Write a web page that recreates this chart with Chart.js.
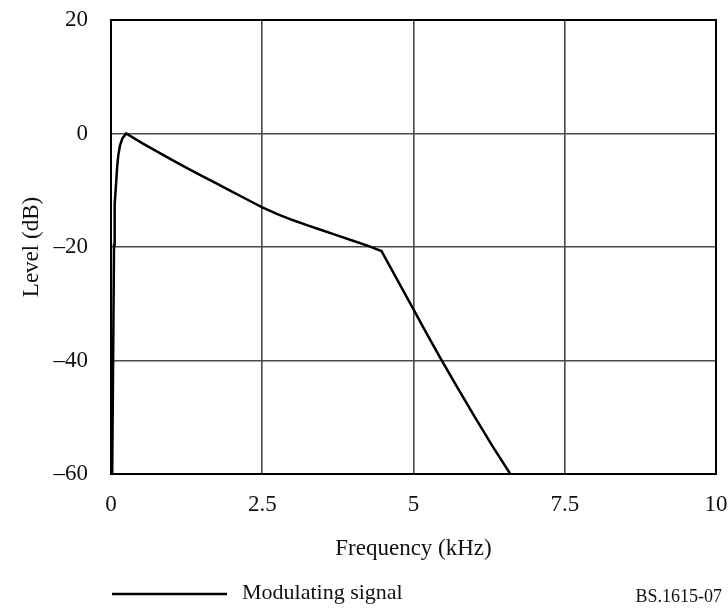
<!DOCTYPE html>
<html><head><meta charset="utf-8">
<script src="https://cdn.jsdelivr.net/npm/chart.js@4.4.1/dist/chart.umd.min.js"></script>
<style>html,body{margin:0;padding:0;background:#fff}#wrap{width:728px;height:609px}</style>
</head><body><div id="wrap"><canvas id="c" width="728" height="609"></canvas></div>
<script>
const freqKHz = [0.02, 0.035, 0.05, 0.055, 0.066, 0.082, 0.104, 0.121, 0.149, 0.187, 0.25,
  0.5, 0.75, 1.0, 1.25, 1.5, 1.75, 2.0, 2.25, 2.5, 2.75, 3.0, 3.25, 3.5, 3.75, 4.0, 4.25, 4.47,
  5.0, 5.2, 5.44, 5.7, 6.0, 6.3, 6.6];
const levelDb = [-60, -40, -19.6, -16.1, -12.6, -9.1, -5.6, -3.8, -2.1, -0.9, 0,
  -1.6, -3.1, -4.6, -6.05, -7.45, -8.85, -10.25, -11.63, -13.0, -14.2, -15.25, -16.2, -17.1, -18.0, -18.9, -19.8, -20.7,
  -31.0, -34.9, -39.5, -44.3, -49.7, -55.0, -60];
const xTicks = [0, 2.5, 5, 7.5, 10];
const yTicks = [20, 0, -20, -40, -60];
const seriesName = 'Modulating signal';
const xTitle = 'Frequency (kHz)';
const yTitle = 'Level (dB)';
const figureId = 'BS.1615-07';

const FONT = 'Liberation Serif, Times New Roman, serif';
const fmtY = v => v < 0 ? '\u2013' + (-v) : String(v);

const extras = {
  id: 'extras',
  beforeDatasetsDraw(chart) {
    const {ctx, chartArea: a} = chart;
    ctx.save();
    ctx.strokeStyle = '#000';
    ctx.lineWidth = 2;
    ctx.strokeRect(a.left, a.top, a.right - a.left, a.bottom - a.top);
    ctx.restore();
  },
  afterDraw(chart) {
    const {ctx} = chart;
    ctx.save();
    ctx.strokeStyle = '#000';
    ctx.lineWidth = 2.5;
    ctx.beginPath();
    ctx.moveTo(112, 594);
    ctx.lineTo(227, 594);
    ctx.stroke();
    ctx.fillStyle = '#111';
    ctx.textBaseline = 'middle';
    ctx.textAlign = 'left';
    ctx.font = '22px ' + FONT;
    ctx.fillText(seriesName, 242, 593);
    ctx.textAlign = 'right';
    ctx.font = '18px ' + FONT;
    ctx.fillText(figureId, 722, 597);
    ctx.restore();
  }
};

new Chart(document.getElementById('c'), {
  type: 'line',
  data: {
    datasets: [{
      label: seriesName,
      data: freqKHz.map((f, i) => ({x: f, y: levelDb[i]})),
      borderColor: '#000',
      borderWidth: 2.5,
      pointRadius: 0,
      tension: 0,
      fill: false
    }]
  },
  options: {
    responsive: false,
    animation: false,
    layout: {padding: {left: 0, right: 12, top: 20, bottom: 0}},
    plugins: {legend: {display: false}, tooltip: {enabled: false}},
    scales: {
      x: {
        type: 'linear', min: 0, max: 10,
        afterBuildTicks: s => { s.ticks = xTicks.map(v => ({value: v})); },
        afterFit: s => { s.height = 135; s.paddingLeft = 0; s.paddingRight = 0; },
        grid: {color: '#4a4a4a', lineWidth: 1.6, drawTicks: false},
        border: {display: false},
        ticks: {padding: 17, color: '#111', maxRotation: 0, font: {family: FONT, size: 23}, callback: v => String(v)},
        title: {display: true, text: xTitle, color: '#111', font: {family: FONT, size: 23}, padding: {top: 0, bottom: 46}}
      },
      y: {
        type: 'linear', min: -60, max: 20,
        afterBuildTicks: s => { s.ticks = yTicks.map(v => ({value: v})); },
        afterFit: s => { s.width = 111; s.paddingTop = 0; s.paddingBottom = 0; },
        grid: {color: '#4a4a4a', lineWidth: 1.6, drawTicks: false},
        border: {display: false},
        ticks: {padding: 23, color: '#111', font: {family: FONT, size: 23}, callback: v => fmtY(v)},
        title: {display: true, text: yTitle, color: '#111', font: {family: FONT, size: 23}, padding: {top: 18, bottom: 0}}
      }
    }
  },
  plugins: [extras]
});
</script>
</body></html>
